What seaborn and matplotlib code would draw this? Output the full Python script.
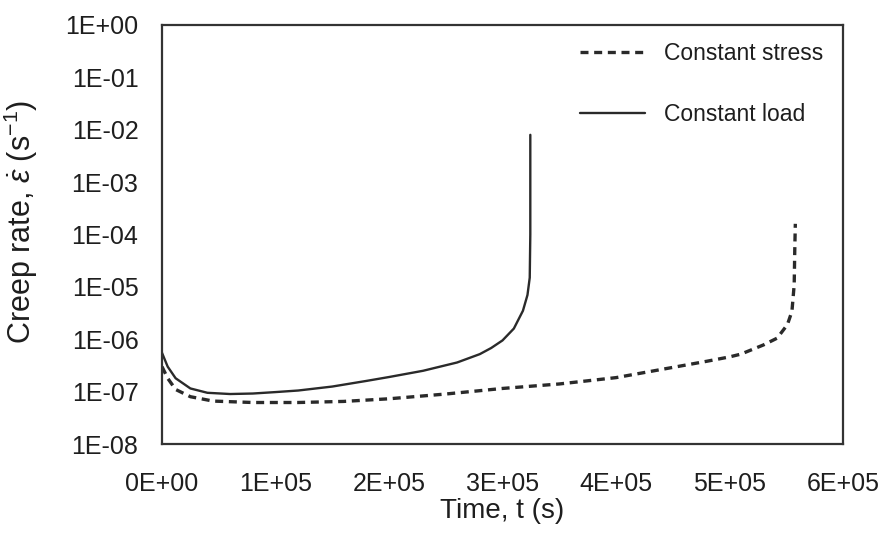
import numpy as np
import pandas as pd
import matplotlib
matplotlib.use("Agg")
import matplotlib.pyplot as plt
from matplotlib.ticker import FixedLocator, FixedFormatter, NullLocator
import seaborn as sns

# ---- data ----
load_t = [0, 5e3, 1.2e4, 2.5e4, 4.0e4, 6.0e4, 8.0e4, 1.0e5, 1.2e5, 1.5e5, 1.8e5,
          2.0e5, 2.3e5, 2.6e5, 2.8e5, 2.9e5, 3.0e5, 3.1e5, 3.18e5, 3.22e5,
          3.24e5, 3.245e5, 3.245e5]
load_rate = [5.5e-7, 3.0e-7, 1.8e-7, 1.15e-7, 9.5e-8, 9.0e-8, 9.2e-8, 9.8e-8,
             1.05e-7, 1.25e-7, 1.6e-7, 1.9e-7, 2.5e-7, 3.6e-7, 5.2e-7, 6.8e-7,
             9.5e-7, 1.6e-6, 3.5e-6, 7e-6, 1.5e-5, 1e-4, 8e-3]

stress_t = [0, 5e3, 1.2e4, 2.5e4, 4.5e4, 8e4, 1.2e5, 1.6e5, 2.0e5, 2.5e5, 3.0e5,
            3.5e5, 4.0e5, 4.5e5, 4.8e5, 5.0e5, 5.1e5, 5.3e5, 5.42e5, 5.51e5,
            5.55e5, 5.57e5, 5.575e5, 5.58e5]
stress_rate = [3.0e-7, 1.8e-7, 1.1e-7, 8e-8, 6.6e-8, 6.2e-8, 6.2e-8, 6.5e-8,
               7.3e-8, 9.0e-8, 1.15e-7, 1.4e-7, 1.85e-7, 2.9e-7, 3.8e-7, 4.6e-7,
               5.2e-7, 7.8e-7, 1.05e-6, 1.9e-6, 3.4e-6, 1.1e-5, 5e-5, 1.6e-4]

series_names = ["Constant stress", "Constant load"]
x_ticks = [0, 1e5, 2e5, 3e5, 4e5, 5e5, 6e5]
x_tick_labels = ["0E+00", "1E+05", "2E+05", "3E+05", "4E+05", "5E+05", "6E+05"]
y_ticks = [1e-8, 1e-7, 1e-6, 1e-5, 1e-4, 1e-3, 1e-2, 1e-1, 1e0]
y_tick_labels = ["1E-08", "1E-07", "1E-06", "1E-05", "1E-04", "1E-03",
                 "1E-02", "1E-01", "1E+00"]

df_stress = pd.DataFrame({"t": stress_t, "rate": stress_rate})
df_load = pd.DataFrame({"t": load_t, "rate": load_rate})

sns.set_theme(style="white")
plt.rcParams["font.family"] = ["Liberation Sans", "DejaVu Sans"]
plt.rcParams["mathtext.fontset"] = "custom"
plt.rcParams["mathtext.rm"] = "Liberation Sans"
plt.rcParams["mathtext.it"] = "Liberation Sans:italic"

txt = "#1e1e1e"
fig = plt.figure(figsize=(8.88, 5.54), dpi=100)
ax = fig.add_axes([162 / 888, 110 / 554, 681 / 888, 419 / 554])

sns.lineplot(data=df_stress, x="t", y="rate", ax=ax, color="#2a2a2a",
             linewidth=2.4, estimator=None, sort=False, label=series_names[0])
ax.lines[-1].set_dashes((2.4, 1.7))
sns.lineplot(data=df_load, x="t", y="rate", ax=ax, color="#2a2a2a",
             linewidth=1.7, estimator=None, sort=False, label=series_names[1])

ax.set_yscale("log")
ax.set_xlim(0, 6e5)
ax.set_ylim(1e-8, 1e0)

ax.xaxis.set_major_locator(FixedLocator(x_ticks))
ax.xaxis.set_major_formatter(FixedFormatter(x_tick_labels))
ax.yaxis.set_major_locator(FixedLocator(y_ticks))
ax.yaxis.set_major_formatter(FixedFormatter(y_tick_labels))
ax.yaxis.set_minor_locator(NullLocator())
ax.xaxis.set_minor_locator(NullLocator())

ax.tick_params(axis="both", direction="in", length=6, width=1.2, color="#333333",
               labelsize=18, labelcolor=txt)
ax.tick_params(axis="x", pad=20)
ax.tick_params(axis="y", pad=17)

for sp in ax.spines.values():
    sp.set_visible(True)
    sp.set_color("#333333")
    sp.set_linewidth(1.6)

ax.set_xlabel("Time, t (s)", fontsize=20, color=txt)
ax.xaxis.set_label_coords(0.5, (444 - 498) / 419)
ax.set_ylabel(r"Creep rate, $\dot{\varepsilon}$ (s$^{-1}$)", fontsize=22, color=txt)
ax.yaxis.set_label_coords((40 - 162) / 681, (444 - 222) / 419)

leg = ax.legend(loc="upper left", bbox_to_anchor=((580 - 162) / 681, (444 - 42) / 419),
                frameon=False, fontsize=16.5, handlelength=2.85, handletextpad=0.8,
                labelspacing=1.65, borderpad=0, borderaxespad=0)
for t in leg.get_texts():
    t.set_color(txt)

fig.savefig("out.png", dpi=100)
